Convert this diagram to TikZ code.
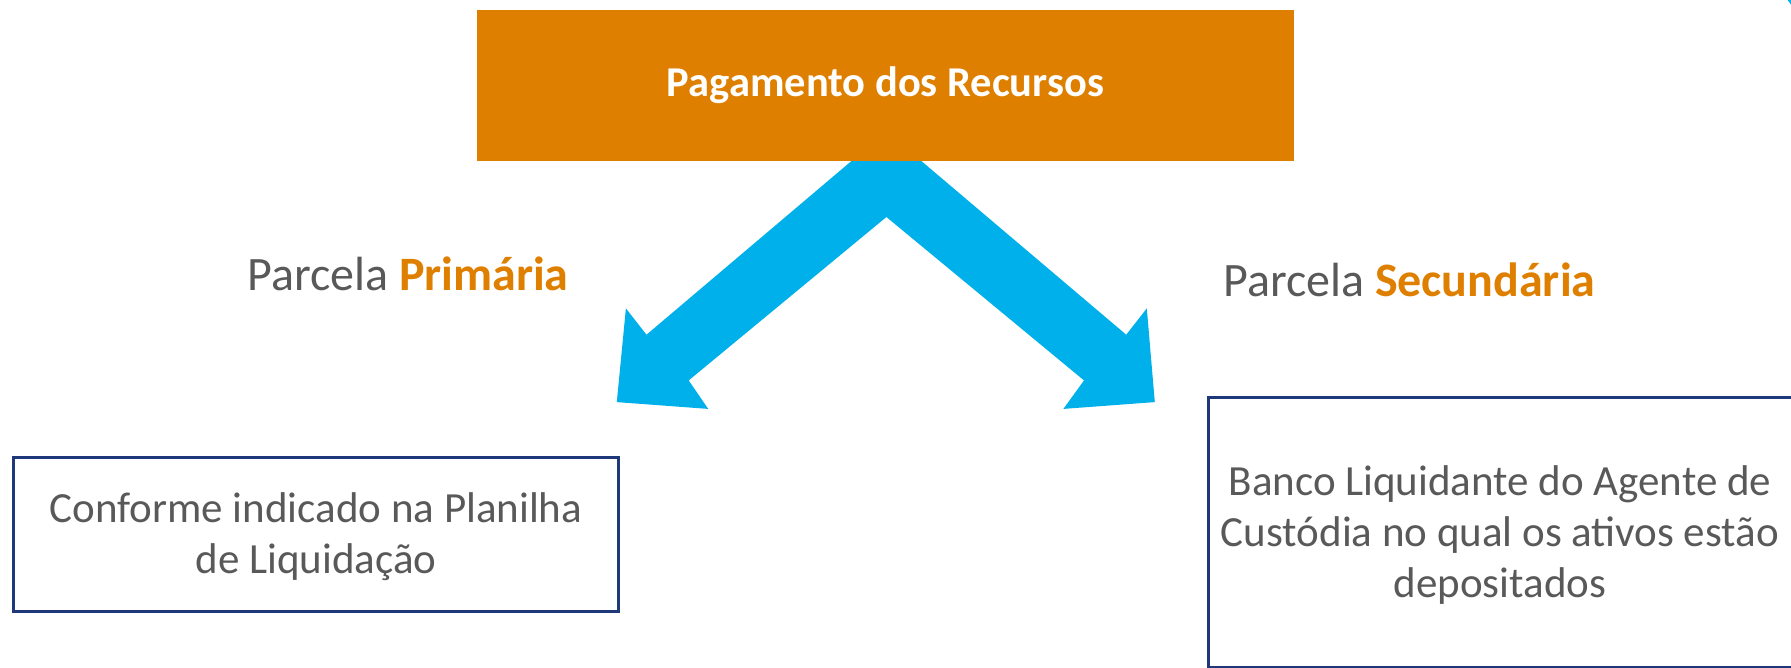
\documentclass[tikz,border=0pt]{standalone}
\usepackage{fontspec}
\setmainfont{Carlito}
\definecolor{orangebox}{RGB}{223,127,0}
\definecolor{arrowblue}{RGB}{0,176,235}
\definecolor{boxblue}{RGB}{31,56,122}
\definecolor{txtgrey}{RGB}{89,89,89}
\tikzset{
  textbox/.style={draw=boxblue, line width=3pt, fill=white, inner sep=0pt},
  boxtext/.style={text=txtgrey, align=center, font=\fontsize{43}{51}\selectfont},
  parcela/.style={text=txtgrey, anchor=west, inner sep=0pt, font=\fontsize{48}{56}\selectfont},
}
\begin{document}
\begin{tikzpicture}[x=1pt,y=-1pt]
\path[use as bounding box] (0,0) rectangle (1791,667);
\begin{scope}
\clip (0,0) rectangle (1791,667);
% blue chevron (two arrows)
\fill[arrowblue] (886.4,131.4) -- (1126.2,334.7) -- (1146.8,308.4) -- (1154.8,402.1)
  -- (1063.4,408.9) -- (1084.0,380.4) -- (886.4,217.0) -- (688.7,380.4)
  -- (708.2,408.9) -- (616.8,402.1) -- (625.9,308.4) -- (646.5,334.7) -- cycle;
% top box
\node[fill=orangebox, minimum width=817pt, minimum height=151pt, inner sep=0pt,
  text=white, font=\fontsize{42.5}{48}\selectfont\bfseries] (top) at (885.5,85.5) {Pagamento dos Recursos};
% left box
\node[textbox, minimum width=605pt, minimum height=154pt] (left) at (315.5,534) {};
\node[boxtext] (lefttext) at (316,537) {Conforme indicado na Planilha\\de Liquidação};
% right box (cut by the page edge)
\node[textbox, minimum width=590pt, minimum height=270pt] (right) at (1503,532) {};
\node[boxtext] (righttext) at (1500,535) {Banco Liquidante do Agente de\\Custódia no qual os ativos estão\\depositados};
% labels
\node[parcela] (lprim) at (247,274) {Parcela \textbf{\textcolor{orangebox}{Primária}}};
\node[parcela] (lsec) at (1223,280) {Parcela \textbf{\textcolor{orangebox}{Secundária}}};
% corner fragment
\fill[arrowblue] (1820,-20) circle (38);
\end{scope}
\end{tikzpicture}
\end{document}
